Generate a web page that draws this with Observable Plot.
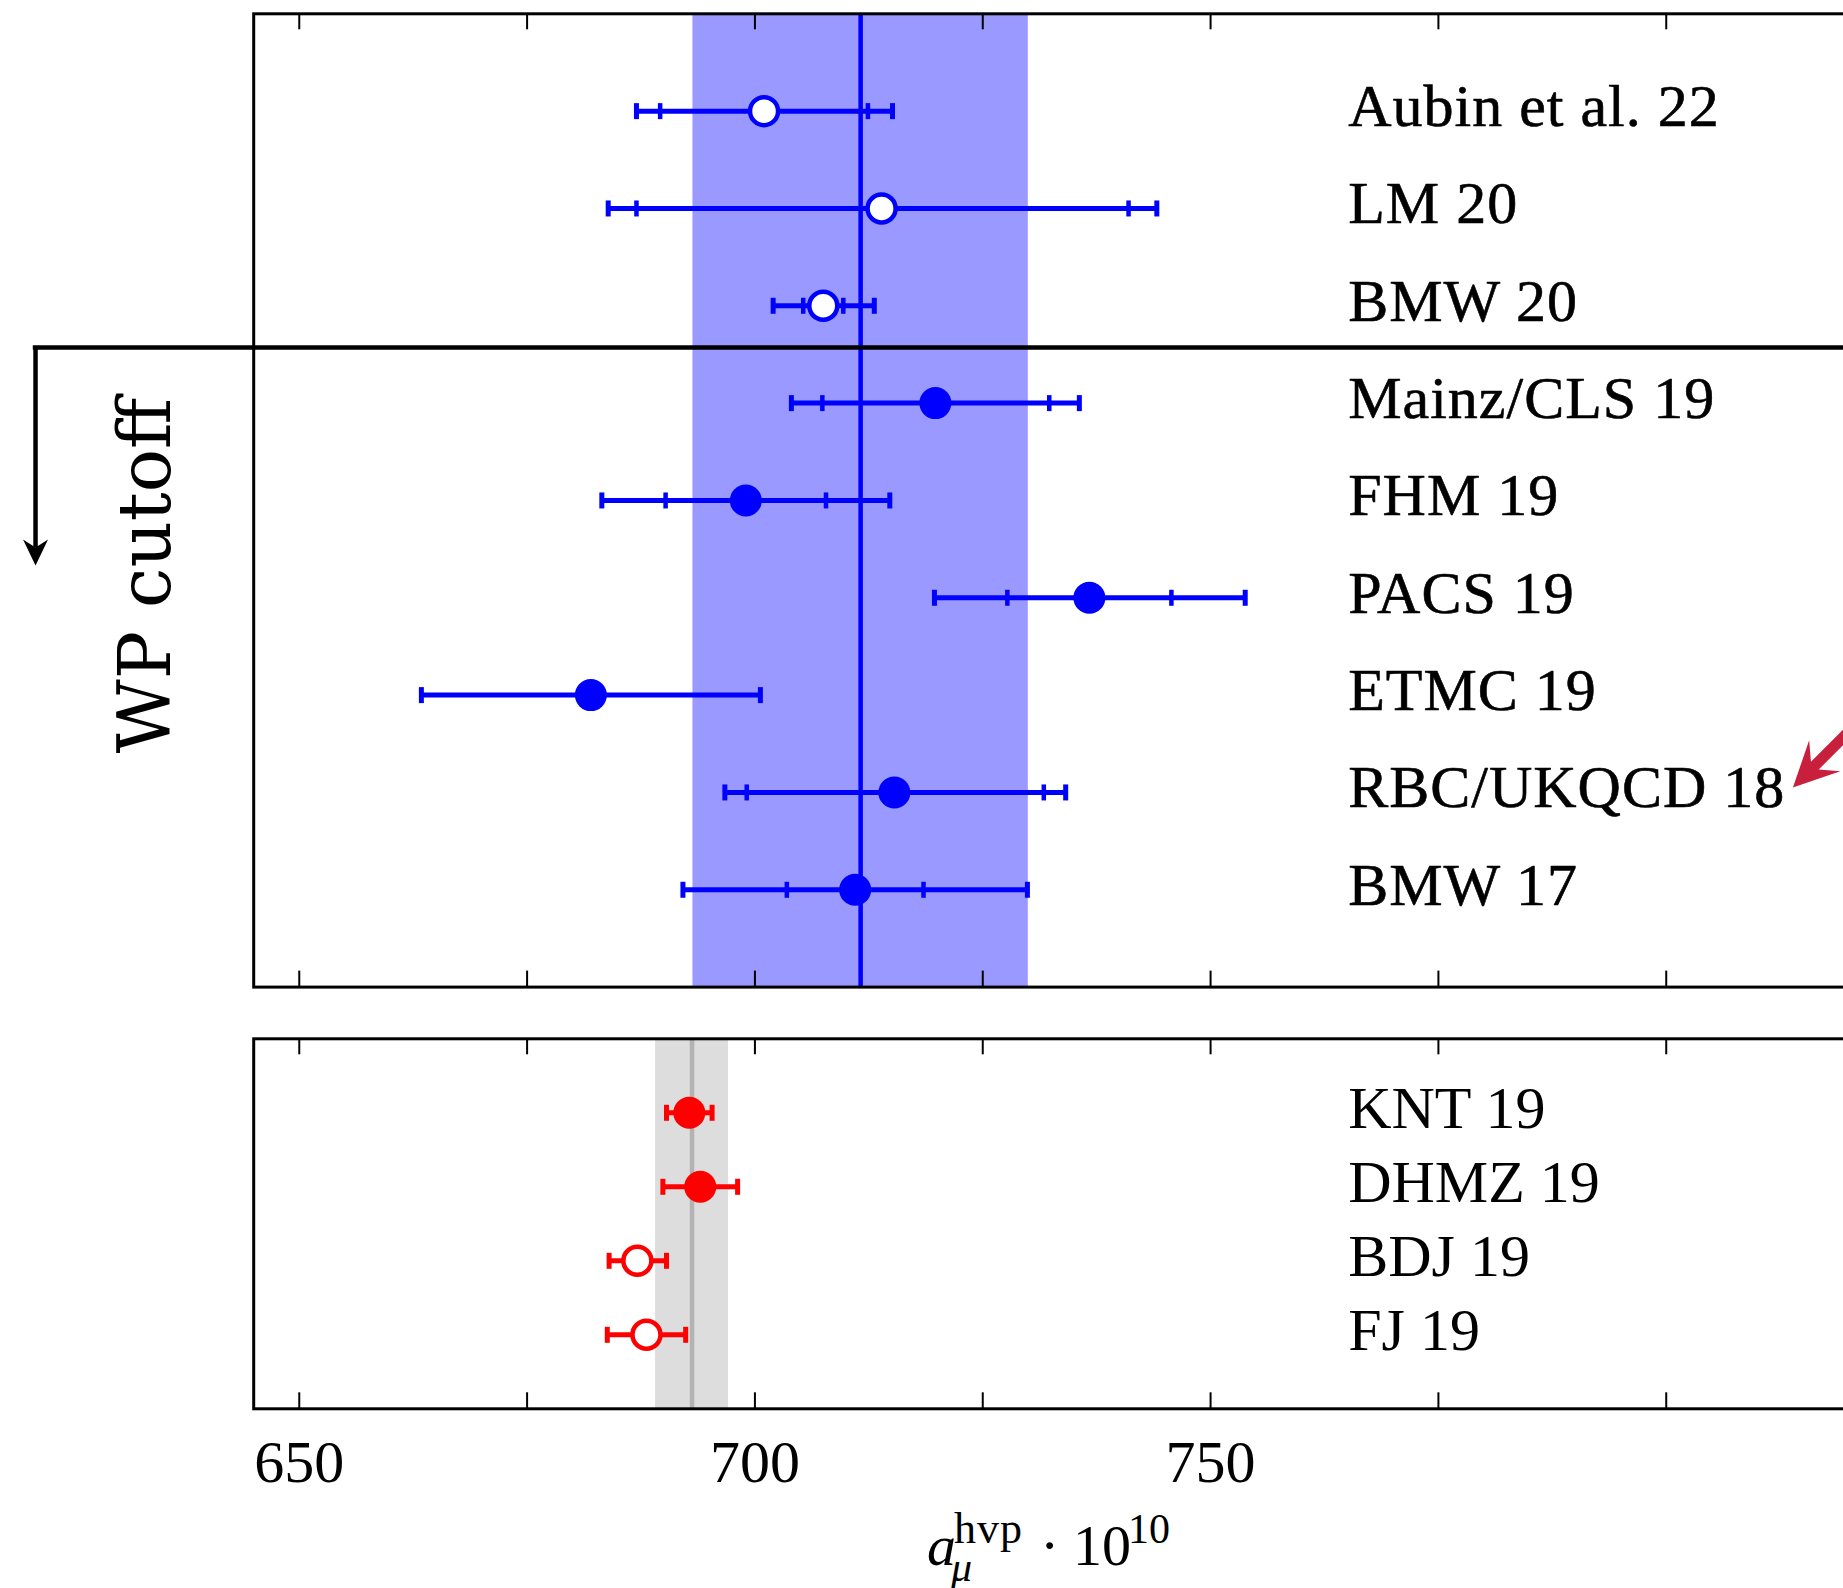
<!DOCTYPE html>
<html>
<head>
<meta charset="utf-8">
<script src="https://cdn.jsdelivr.net/npm/d3@7"></script>
<script src="https://cdn.jsdelivr.net/npm/@observablehq/plot@0.6"></script>
<style>
  html, body { margin: 0; padding: 0; background: #fff; overflow: hidden; }
  #wrap { position: relative; width: 1843px; height: 1588px; overflow: hidden; background: #fff; }
  #top, #bottom { position: absolute; left: 0; width: 1848px; }
  #top { top: 0; }
  #bottom { top: 1000px; }
</style>
</head>
<body>
<div id="wrap"><div id="top"></div><div id="bottom"></div></div>
<script>
// ---------------- data ----------------
// lattice QCD results (upper panel)
const latticeNames   = ["Aubin et al. 22", "LM 20", "BMW 20", "Mainz/CLS 19", "FHM 19", "PACS 19", "ETMC 19", "RBC/UKQCD 18", "BMW 17"];
const latticeCentral = [701.0, 713.9, 707.5, 719.8, 699.0, 736.7, 682.0, 715.3, 711.0];
const latticeTotLo   = [687.0, 683.9, 702.0, 704.0, 683.2, 719.7, 663.4, 696.7, 692.1];
const latticeTotHi   = [715.1, 744.1, 713.1, 735.6, 714.8, 753.8, 700.6, 734.1, 729.9];
const latticeStatLo  = [689.6, 687.0, 705.3, 707.4, 690.2, 727.7, null, 699.1, 703.5];
const latticeStatHi  = [712.4, 741.0, 709.7, 732.3, 707.8, 745.7, null, 731.7, 718.5];
const latticeOpen    = [true, true, true, false, false, false, false, false, false];
const latticeAvgCentral = 711.6, latticeAvgErr = 18.4;

// data-driven results (lower panel)
const ddNames   = ["KNT 19", "DHMZ 19", "BDJ 19", "FJ 19"];
const ddCentral = [692.8, 694.0, 687.1, 688.1];
const ddLo      = [690.3, 689.9, 684.0, 683.8];
const ddHi      = [695.3, 698.1, 690.3, 692.4];
const ddOpen    = [false, false, true, true];
const ddAvgCentral = 693.1, ddAvgErr = 4.0;

// axis
const xDomain = [645, 820];
const xTicks = [650, 675, 700, 725, 750, 775, 800];
const xTickLabels = [650, 700, 750];

// annotations (data units)
const labelX = 765.1;
const cutoffRow = 3.428, cutoffX = 621.06, cutoffArrowNotch = 5.49, cutoffArrowTip = 5.668;
const redArrowX = 813.9, redArrowRow = 7.95;

// ---------------- layout ----------------
const W = 1848, marginLeft = 253.2;
const topH = 1000, topMT = 13.3, topMB = 13.4;
const botH = 588, botMT = 38.3, botMB = 179.7;
const tickLen = 16;
const blue = "#0000ff", red = "#ff0000";
const font = "'Liberation Serif', 'DejaVu Serif', serif";

const lattice = latticeNames.map((name, i) => ({
  name, row: i + 1, c: latticeCentral[i], lo: latticeTotLo[i], hi: latticeTotHi[i],
  slo: latticeStatLo[i], shi: latticeStatHi[i], open: latticeOpen[i]
}));
const latticeCaps = lattice.flatMap(d => [d.lo, d.hi].map(x => ({x, row: d.row})));
const latticeStatCaps = lattice.filter(d => d.slo != null).flatMap(d => [d.slo, d.shi].map(x => ({x, row: d.row})));
const dd = ddNames.map((name, i) => ({name, row: i + 1, c: ddCentral[i], lo: ddLo[i], hi: ddHi[i], open: ddOpen[i]}));
const ddCaps = dd.flatMap(d => [d.lo, d.hi].map(x => ({x, row: d.row})));

// custom symbols
const vbar = {draw(ctx, size) { const h = Math.sqrt(size / Math.PI); ctx.moveTo(0, -h); ctx.lineTo(0, h); }};
const downHead = {draw(ctx) { ctx.moveTo(0, 0); ctx.lineTo(-12.5, -26); ctx.lineTo(0, -18); ctx.lineTo(12.5, -26); ctx.closePath(); }};
const redArrowShape = {draw(ctx) {
  const u = [Math.SQRT1_2, -Math.SQRT1_2], n = [Math.SQRT1_2, Math.SQRT1_2];
  const p = (t, s) => [t * u[0] + s * n[0], t * u[1] + s * n[1]];
  const pts = [p(0, 0), p(45, 22), p(31, 5.5), p(150, 5.5), p(150, -5.5), p(31, -5.5), p(45, -22)];
  ctx.moveTo(...pts[0]);
  for (let i = 1; i < pts.length; i++) ctx.lineTo(...pts[i]);
  ctx.closePath();
}};

const commonStyle = {fontFamily: font, background: "transparent", maxWidth: "none", overflow: "visible"};
const barW = 5;

// ---------------- top panel ----------------
const innerTopH = topH - topMT - topMB;
const topPlot = Plot.plot({
  width: W, height: topH, marginLeft, marginRight: 0, marginTop: topMT, marginBottom: topMB,
  x: {domain: xDomain, axis: null},
  y: {domain: [0, 10], reverse: true, axis: null},
  style: {...commonStyle, letterSpacing: "1px"},
  marks: [
    Plot.rect([0], {x1: () => latticeAvgCentral - latticeAvgErr, x2: () => latticeAvgCentral + latticeAvgErr, fill: "#9999ff"}),
    Plot.ruleX([latticeAvgCentral], {stroke: blue, strokeWidth: 4.5}),
    Plot.frame({stroke: "black", strokeWidth: 3}),
    Plot.ruleX(xTicks, {stroke: "black", strokeWidth: 2, insetBottom: innerTopH - tickLen}),
    Plot.ruleX(xTicks, {stroke: "black", strokeWidth: 2, insetTop: innerTopH - tickLen}),
    Plot.ruleY([cutoffRow], {x1: cutoffX, x2: xDomain[1], stroke: "black", strokeWidth: 4.5, strokeLinecap: "square"}),
    Plot.ruleX([cutoffX], {y1: cutoffRow, y2: cutoffArrowNotch, stroke: "black", strokeWidth: 4.5}),
    Plot.dot([{x: cutoffX, y: cutoffArrowTip}], {x: "x", y: "y", symbol: downHead, r: 10, fill: "black", stroke: "none"}),
    Plot.ruleY(lattice, {y: "row", x1: "lo", x2: "hi", stroke: blue, strokeWidth: barW}),
    Plot.dot(latticeCaps, {x: "x", y: "row", symbol: vbar, r: 8, stroke: blue, strokeWidth: barW, fill: "none"}),
    Plot.dot(latticeStatCaps, {x: "x", y: "row", symbol: vbar, r: 8, stroke: blue, strokeWidth: 4.5, fill: "none"}),
    Plot.dot(lattice.filter(d => !d.open), {x: "c", y: "row", r: 16, fill: blue, stroke: "none"}),
    Plot.dot(lattice.filter(d => d.open), {x: "c", y: "row", r: 14, fill: "white", stroke: blue, strokeWidth: 4.5}),
    Plot.text(lattice, {x: () => labelX, y: "row", text: "name", textAnchor: "start", lineAnchor: "bottom", dy: 15,
      fontSize: 60, fill: "black", stroke: "black", strokeWidth: 0.6}),
    Plot.dot([{x: redArrowX, y: redArrowRow}], {x: "x", y: "y", symbol: redArrowShape, r: 10, fill: "#c8203c", stroke: "none"})
  ]
});
d3.select(topPlot).append("text")
  .attr("transform", "translate(170,575.5) rotate(-90)")
  .attr("text-anchor", "middle")
  .style("font-family", "'DejaVu Serif', serif")
  .style("font-size", "72px")
  .style("letter-spacing", "0px")
  .attr("fill", "black")
  .text("WP cutoff");
document.getElementById("top").appendChild(topPlot);

// ---------------- bottom panel ----------------
const innerBotH = botH - botMT - botMB;
const botPlot = Plot.plot({
  width: W, height: botH, marginLeft, marginRight: 0, marginTop: botMT, marginBottom: botMB,
  x: {domain: xDomain},
  y: {domain: [0, 5], reverse: true, axis: null},
  style: commonStyle,
  marks: [
    Plot.rect([0], {x1: () => ddAvgCentral - ddAvgErr, x2: () => ddAvgCentral + ddAvgErr, fill: "#dddddd"}),
    Plot.ruleX([ddAvgCentral], {stroke: "#b3b3b3", strokeWidth: 4.5}),
    Plot.frame({stroke: "black", strokeWidth: 3}),
    Plot.ruleX(xTicks, {stroke: "black", strokeWidth: 2, insetBottom: innerBotH - tickLen}),
    Plot.ruleX(xTicks, {stroke: "black", strokeWidth: 2, insetTop: innerBotH - tickLen}),
    Plot.axisX(xTickLabels, {anchor: "bottom", tickSize: 0, tickPadding: 31, fontSize: 60, label: null, tickFormat: d => String(d), fill: "black"}),
    Plot.ruleY(dd, {y: "row", x1: "lo", x2: "hi", stroke: red, strokeWidth: barW}),
    Plot.dot(ddCaps, {x: "x", y: "row", symbol: vbar, r: 8, stroke: red, strokeWidth: barW, fill: "none"}),
    Plot.dot(dd.filter(d => !d.open), {x: "c", y: "row", r: 16, fill: red, stroke: "none"}),
    Plot.dot(dd.filter(d => d.open), {x: "c", y: "row", r: 14, fill: "white", stroke: red, strokeWidth: 4.5}),
    Plot.text(dd, {x: () => labelX, y: "row", text: "name", textAnchor: "start", lineAnchor: "bottom", dy: 15, fontSize: 60, fill: "black"})
  ]
});
// x-axis title: a_mu^hvp · 10^10
{
  const g = d3.select(botPlot).append("g").attr("fill", "black").attr("text-anchor", "start").style("font-family", font);
  const x0 = 927, base = 565;
  g.append("text").attr("x", x0).attr("y", base).style("font-size", "58px").style("font-style", "italic").text("a");
  g.append("text").attr("x", x0 + 27).attr("y", base - 22).style("font-size", "44px").style("letter-spacing", "1px").text("hvp");
  g.append("text").attr("x", x0 + 24).attr("y", base + 16).style("font-size", "42px").style("font-style", "italic").text("μ");
  g.append("text").attr("x", x0 + 113).attr("y", base).style("font-size", "58px").text("·");
  g.append("text").attr("x", x0 + 146).attr("y", base).style("font-size", "58px").text("10");
  g.append("text").attr("x", x0 + 201).attr("y", base - 22).style("font-size", "42px").text("10");
}
document.getElementById("bottom").appendChild(botPlot);
</script>
</body>
</html>
